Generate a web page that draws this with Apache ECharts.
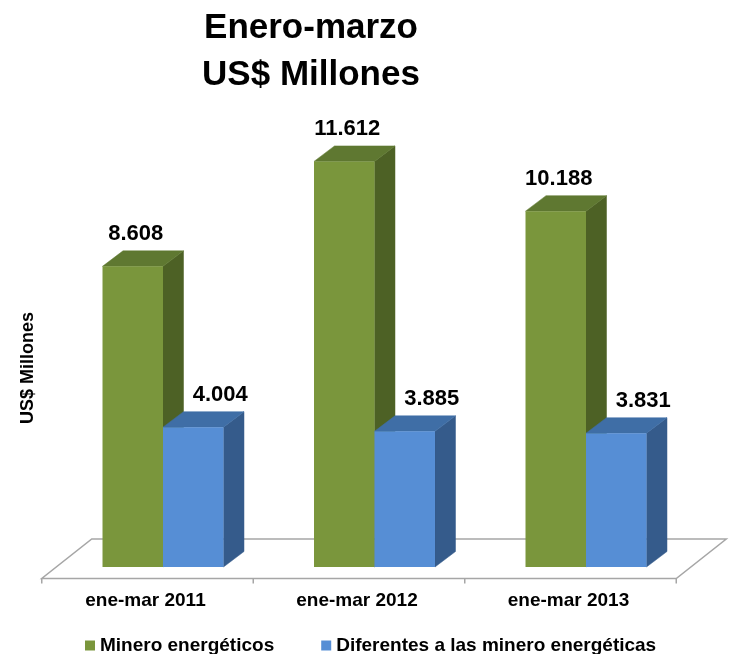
<!DOCTYPE html>
<html>
<head>
<meta charset="utf-8">
<script src="https://cdn.jsdelivr.net/npm/echarts@6/dist/echarts.min.js"></script>
<style>
html,body{margin:0;padding:0;background:#fff;}
#chart{width:731px;height:654px;}
</style>
</head>
<body>
<div id="chart"></div>
<script>
// ---- data ----
var CATEGORIES = ['ene-mar 2011', 'ene-mar 2012', 'ene-mar 2013'];
var MINERO = [8608, 11612, 10188];
var DIFERENTES = [4004, 3885, 3831];
var SERIES_NAMES = ['Minero energéticos', 'Diferentes a las minero energéticas'];
var TITLE_LINES = ['Enero-marzo', 'US$ Millones'];
var Y_NAME = 'US$ Millones';

// ---- style ----
var FONT = '"Liberation Sans", Arial, Helvetica, sans-serif';
var COLORS = [
  { front: '#7A963C', side: '#4D6125', top: '#5F7831' },
  { front: '#568ED5', side: '#355B8B', top: '#3F6EA6' }
];
var BAR_FRAC = 0.286;
var DEPTH_DX = 20.5, DEPTH_DY = -15.5;
var LABEL_DX = [3, 27];
var LABEL_DY = -32;
var FLOOR_FRONT = [-15.5, 11.5];
var FLOOR_BACK = [34.5, -28];

function fmt(v) { return (v / 1000).toFixed(3); }

function barRenderer(sIdx) {
  return function (params, api) {
    var ci = api.value(0), v = api.value(1);
    var base = api.coord([ci, 0]);
    var top = api.coord([ci, v]);
    var band = api.size([1, 0])[0];
    var w = band * BAR_FRAC;
    var x0 = sIdx === 0 ? base[0] - w : base[0];
    var x1 = x0 + w;
    var y0 = base[1], y1 = top[1];
    var c = COLORS[sIdx];
    return {
      type: 'group',
      children: [
        { type: 'polygon', shape: { points: [[x1, y0], [x1 + DEPTH_DX, y0 + DEPTH_DY], [x1 + DEPTH_DX, y1 + DEPTH_DY], [x1, y1]] },
          style: { fill: c.side, stroke: c.side, lineWidth: 0.5 } },
        { type: 'polygon', shape: { points: [[x0, y1], [x1, y1], [x1 + DEPTH_DX, y1 + DEPTH_DY], [x0 + DEPTH_DX, y1 + DEPTH_DY]] },
          style: { fill: c.top, stroke: c.top, lineWidth: 0.5 } },
        { type: 'rect', shape: { x: x0, y: y1, width: w, height: y0 - y1 },
          style: { fill: c.front } },
        { type: 'text', x: (x0 + x1) / 2 + LABEL_DX[sIdx], y: y1 + LABEL_DY,
          style: { text: fmt(v), fill: '#000', font: 'bold 22px ' + FONT,
                   align: 'center', verticalAlign: 'middle',
                   textAlign: 'center', textVerticalAlign: 'middle' } }
      ]
    };
  };
}

function floorRenderer(params, api) {
  if (params.dataIndex !== 0) return;
  var n = CATEGORIES.length;
  var band = api.size([1, 0])[0];
  var p0 = api.coord([0, 0]);
  var pn = api.coord([n - 1, 0]);
  var left = p0[0] - band / 2, right = pn[0] + band / 2, y = p0[1];
  var pts = [
    [left + FLOOR_FRONT[0], y + FLOOR_FRONT[1]],
    [right + FLOOR_FRONT[0], y + FLOOR_FRONT[1]],
    [right + FLOOR_BACK[0], y + FLOOR_BACK[1]],
    [left + FLOOR_BACK[0], y + FLOOR_BACK[1]]
  ];
  var children = [
    { type: 'polygon', shape: { points: pts }, style: { fill: '#fff', stroke: '#A6A6A6', lineWidth: 1.5 } }
  ];
  for (var i = 0; i <= n; i++) {
    var tx = left + band * i + FLOOR_FRONT[0];
    var ty = y + FLOOR_FRONT[1];
    children.push({ type: 'line', shape: { x1: tx, y1: ty, x2: tx, y2: ty + 5 }, style: { stroke: '#A6A6A6', lineWidth: 1.5 } });
  }
  return { type: 'group', children: children };
}

var chart = echarts.init(document.getElementById('chart'), null, { renderer: 'canvas' });
var option = {
  backgroundColor: '#fff',
  animation: false,
  title: {
    text: TITLE_LINES.join('\n'),
    left: 306, top: 0, textAlign: 'center',
    textStyle: { fontFamily: FONT, fontWeight: 'bold', fontSize: 35, lineHeight: 47, color: '#000' }
  },
  grid: { left: 57.25, right: 39.25, top: 78, bottom: 87 },
  xAxis: {
    type: 'category', data: CATEGORIES,
    axisLine: { show: false }, axisTick: { show: false },
    axisLabel: { margin: 24, color: '#000', fontFamily: FONT, fontWeight: 'bold', fontSize: 19, padding: [0, 35, 0, 0] }
  },
  yAxis: {
    type: 'value', min: 0, max: 14000, show: false
  },
  legend: {
    data: SERIES_NAMES, left: 85, top: 636, padding: 0,
    icon: 'rect', itemWidth: 10, itemHeight: 10, itemGap: 47,
    textStyle: { fontFamily: FONT, fontWeight: 'bold', fontSize: 19, color: '#000' }
  },
  graphic: [
    { type: 'text', x: 28, y: 368, rotation: Math.PI / 2,
      style: { text: Y_NAME, fill: '#000', font: 'bold 18px ' + FONT,
               align: 'center', verticalAlign: 'middle', textAlign: 'center', textVerticalAlign: 'middle' } }
  ],
  series: [
    { type: 'custom', name: 'floor', renderItem: floorRenderer, data: CATEGORIES.map(function (c, i) { return [i, 0]; }),
      encode: { x: 0, y: 1 }, silent: true, z: 1 },
    { type: 'custom', name: SERIES_NAMES[0], renderItem: barRenderer(0),
      data: MINERO.map(function (v, i) { return [i, v]; }), encode: { x: 0, y: 1 },
      itemStyle: { color: COLORS[0].front }, z: 2 },
    { type: 'custom', name: SERIES_NAMES[1], renderItem: barRenderer(1),
      data: DIFERENTES.map(function (v, i) { return [i, v]; }), encode: { x: 0, y: 1 },
      itemStyle: { color: COLORS[1].front }, z: 3 }
  ]
};
chart.setOption(option);
</script>
</body>
</html>
